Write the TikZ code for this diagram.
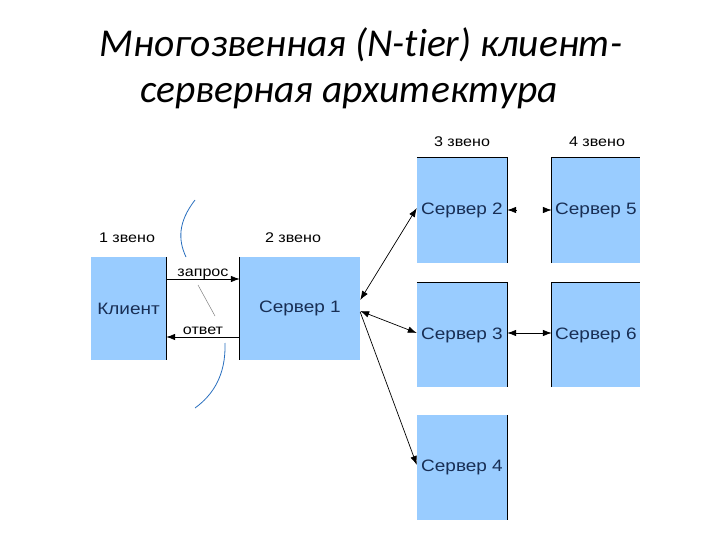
\documentclass[tikz,border=0pt]{standalone}
\usepackage{fontspec}
\setmainfont{Liberation Sans}[FakeStretch=1.15]
\newfontfamily\titlefont{Carlito}[UprightFont=* Italic, Ligatures=CommonOff]
\usetikzlibrary{arrows.meta}
\definecolor{boxblue}{RGB}{153,204,255}
\definecolor{boxtext}{RGB}{24,46,84}
\definecolor{curveblue}{RGB}{40,110,190}
\tikzset{
  tierbox/.style={fill=boxblue, draw=none, inner sep=0pt, text=boxtext,
    font=\fontsize{16.5}{18}\selectfont},
  tierlabel/.style={font=\fontsize{14}{16}\selectfont, text=black, inner sep=0pt},
  tip/.style={line width=0.7pt, -{Latex[length=9pt,width=6.5pt]}},
  tips/.style={line width=0.7pt, {Latex[length=9pt,width=6.5pt]}-{Latex[length=9pt,width=6.5pt]}},
  edge line/.style={line width=0.9pt, draw=black},
  cut/.style={line width=0.8pt, draw=curveblue}
}
\begin{document}
\begin{tikzpicture}[x=1pt,y=-1pt]
\useasboundingbox (0,0) rectangle (720,540);
% title
\node[anchor=base, font=\titlefont\fontsize{39.5}{44}\selectfont, inner sep=0pt] (t1) at (361,57) {Многозвенная (N-tier) клиент-};
\node[anchor=base, font=\titlefont\fontsize{39.5}{44}\selectfont, inner sep=0pt] (t2) at (349,103) {серверная архитектура};
% boxes
\node[tierbox, minimum width=75pt, minimum height=103pt] (cl) at (128.5,308.5) {Клиент};
\node[tierbox, minimum width=120pt, minimum height=103pt] (s1) at (300,308.5) {Сервер 1};
\node[tierbox, minimum width=90pt, minimum height=105pt] (s2) at (462,210.5) {Сервер 2};
\node[tierbox, minimum width=88pt, minimum height=105pt] (s5) at (596,210.5) {Сервер 5};
\node[tierbox, minimum width=90pt, minimum height=104pt] (s3) at (462,335) {Сервер 3};
\node[tierbox, minimum width=88pt, minimum height=104pt] (s6) at (596,335) {Сервер 6};
\node[tierbox, minimum width=90pt, minimum height=105pt] (s4) at (462,467.5) {Сервер 4};
% dark edges
\draw[edge line] (cl.north east) -- (cl.south east);
\draw[edge line] (s1.north west) -- (s1.south west);
\draw[edge line] (s2.north west) -- (s2.north east) -- (s2.south east);
\draw[edge line] (s5.south west) -- (s5.north west) -- (s5.north east);
\draw[edge line] (s3.north west) -- (s3.north east) -- (s3.south east);
\draw[edge line] (s6.south west) -- (s6.north west) -- (s6.north east);
\draw[edge line] (s4.north east) -- (s4.south east);
% tier labels
\node[tierlabel] (l1) at (127,238) {1 звено};
\node[tierlabel] (l2) at (293,238) {2 звено};
\node[tierlabel] (l3) at (462,142) {3 звено};
\node[tierlabel] (l4) at (597,142) {4 звено};
% request / response
\coordinate (rqa) at (cl.east |- 0,279);
\coordinate (rqb) at (s1.west |- 0,279);
\draw[tip] (rqa) -- (rqb);
\node[tierlabel, anchor=base] (rq) at (203,276) {запрос};
\coordinate (rsa) at (s1.west |- 0,337);
\coordinate (rsb) at (cl.east |- 0,337);
\draw[tip] (rsa) -- (rsb);
\node[tierlabel, anchor=base] (rs) at (203,334) {ответ};
% cut curves
\draw[cut] (195,200) .. controls (178,222) and (178,240) .. (186,257);
\draw[line width=0.5pt, draw=gray] (198,285) -- (215,316);
\draw[cut] (225,343) .. controls (226,375) and (213,395) .. (195,408);
% server 1 connections
\coordinate (p2) at (s1.east |- 0,300);
\coordinate (p3) at (s1.east |- 0,311);
\coordinate (p4) at (s1.east |- 0,312);
\draw[tips] (p2) -- (s2.west |- 0,208);
\draw[tips] (p3) -- (s3.west |- 0,333);
\draw[tip] (p4) -- (s4.west |- 0,465);
% server 2 - server 5 (broken)
\coordinate (g1) at (516,210);
\coordinate (g2) at (543,210);
\draw[tip] (g1) -- (s2.east |- g1);
\draw[tip] (g2) -- (s5.west |- g2);
% server 3 - server 6
\draw[tips] (s3.east |- 0,333) -- (s6.west |- 0,333);
\end{tikzpicture}
\end{document}
